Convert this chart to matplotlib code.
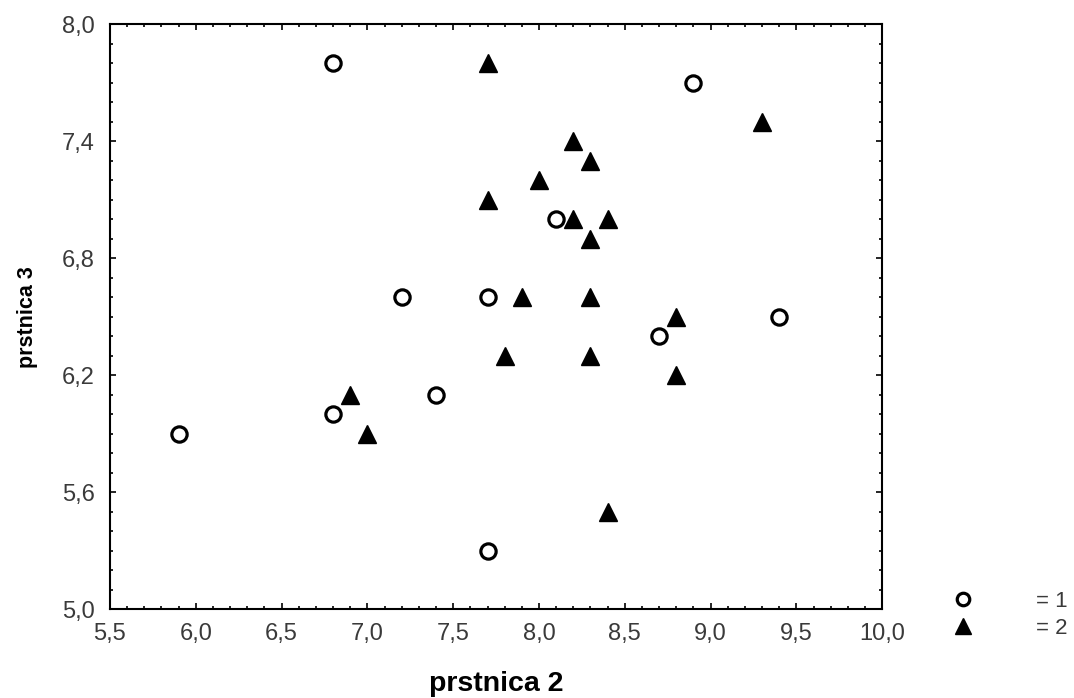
import numpy as np
import matplotlib
matplotlib.use("Agg")
import matplotlib.pyplot as plt
from matplotlib.ticker import MultipleLocator, FuncFormatter
from matplotlib.lines import Line2D

plt.rcParams["font.family"] = ["Liberation Sans", "DejaVu Sans"]

# group 1 (open circles)
x1 = [6.8, 8.9, 8.1, 7.2, 7.7, 8.7, 9.4, 7.4, 6.8, 5.9, 7.7]
y1 = [7.8, 7.7, 7.0, 6.6, 6.6, 6.4, 6.5, 6.1, 6.0, 5.9, 5.3]

# group 2 (filled triangles)
x2 = [7.7, 9.3, 8.2, 8.3, 8.0, 7.7, 8.2, 8.4, 8.3, 7.9, 8.3, 8.8, 7.8, 8.3, 8.8, 6.9, 7.0, 8.4]
y2 = [7.8, 7.5, 7.4, 7.3, 7.2, 7.1, 7.0, 7.0, 6.9, 6.6, 6.6, 6.5, 6.3, 6.3, 6.2, 6.1, 5.9, 5.5]

yticks = [5.0, 5.6, 6.2, 6.8, 7.4, 8.0]

fig = plt.figure(figsize=(10.74, 6.98), dpi=100)
ax = fig.add_axes([0.1024, 0.1275, 0.719, 0.8374])

ax.plot(x1, y1, "o", ms=11, mfc="white", mec="black", mew=2.3, ls="none")
ax.plot(x2, y2, "^", ms=13, mfc="black", mec="black", ls="none")

ax.set_xlim(5.5, 10.0)
ax.set_ylim(5.0, 8.0)
ax.xaxis.set_major_locator(MultipleLocator(0.5))
ax.xaxis.set_minor_locator(MultipleLocator(0.1))
ax.set_yticks(yticks)
ax.yaxis.set_minor_locator(MultipleLocator(0.1))
fmt = FuncFormatter(lambda v, p: f"{v:.1f}".replace(".", ","))
ax.xaxis.set_major_formatter(fmt)
ax.yaxis.set_major_formatter(fmt)

ax.tick_params(which="both", direction="in", top=True, right=True, width=1.2,
               labelsize=17, labelcolor="#3a3a3a")
ax.tick_params(which="major", length=4)
ax.tick_params(which="minor", length=2.5)
ax.tick_params(axis="x", which="major", pad=10)
ax.tick_params(axis="y", which="major", pad=11)
for s in ax.spines.values():
    s.set_linewidth(1.5)

ax.set_xlabel("prstnica 2", fontsize=20.5, fontweight="bold", labelpad=19)
ax.set_ylabel("prstnica 3", fontsize=15.5, fontweight="bold", labelpad=17)

handles = [
    Line2D([], [], marker="o", ms=9, mfc="white", mec="black", mew=2.3, ls="none"),
    Line2D([], [], marker="^", ms=12, mfc="black", mec="black", ls="none"),
]
leg = ax.legend(handles, ["= 1", "= 2"], loc="lower left", bbox_to_anchor=(1.064, -0.085),
                frameon=False, fontsize=16, handletextpad=2.8, labelspacing=0.25,
                handlelength=1)
for t in leg.get_texts():
    t.set_color("#3a3a3a")

plt.savefig("out.png", dpi=100)
